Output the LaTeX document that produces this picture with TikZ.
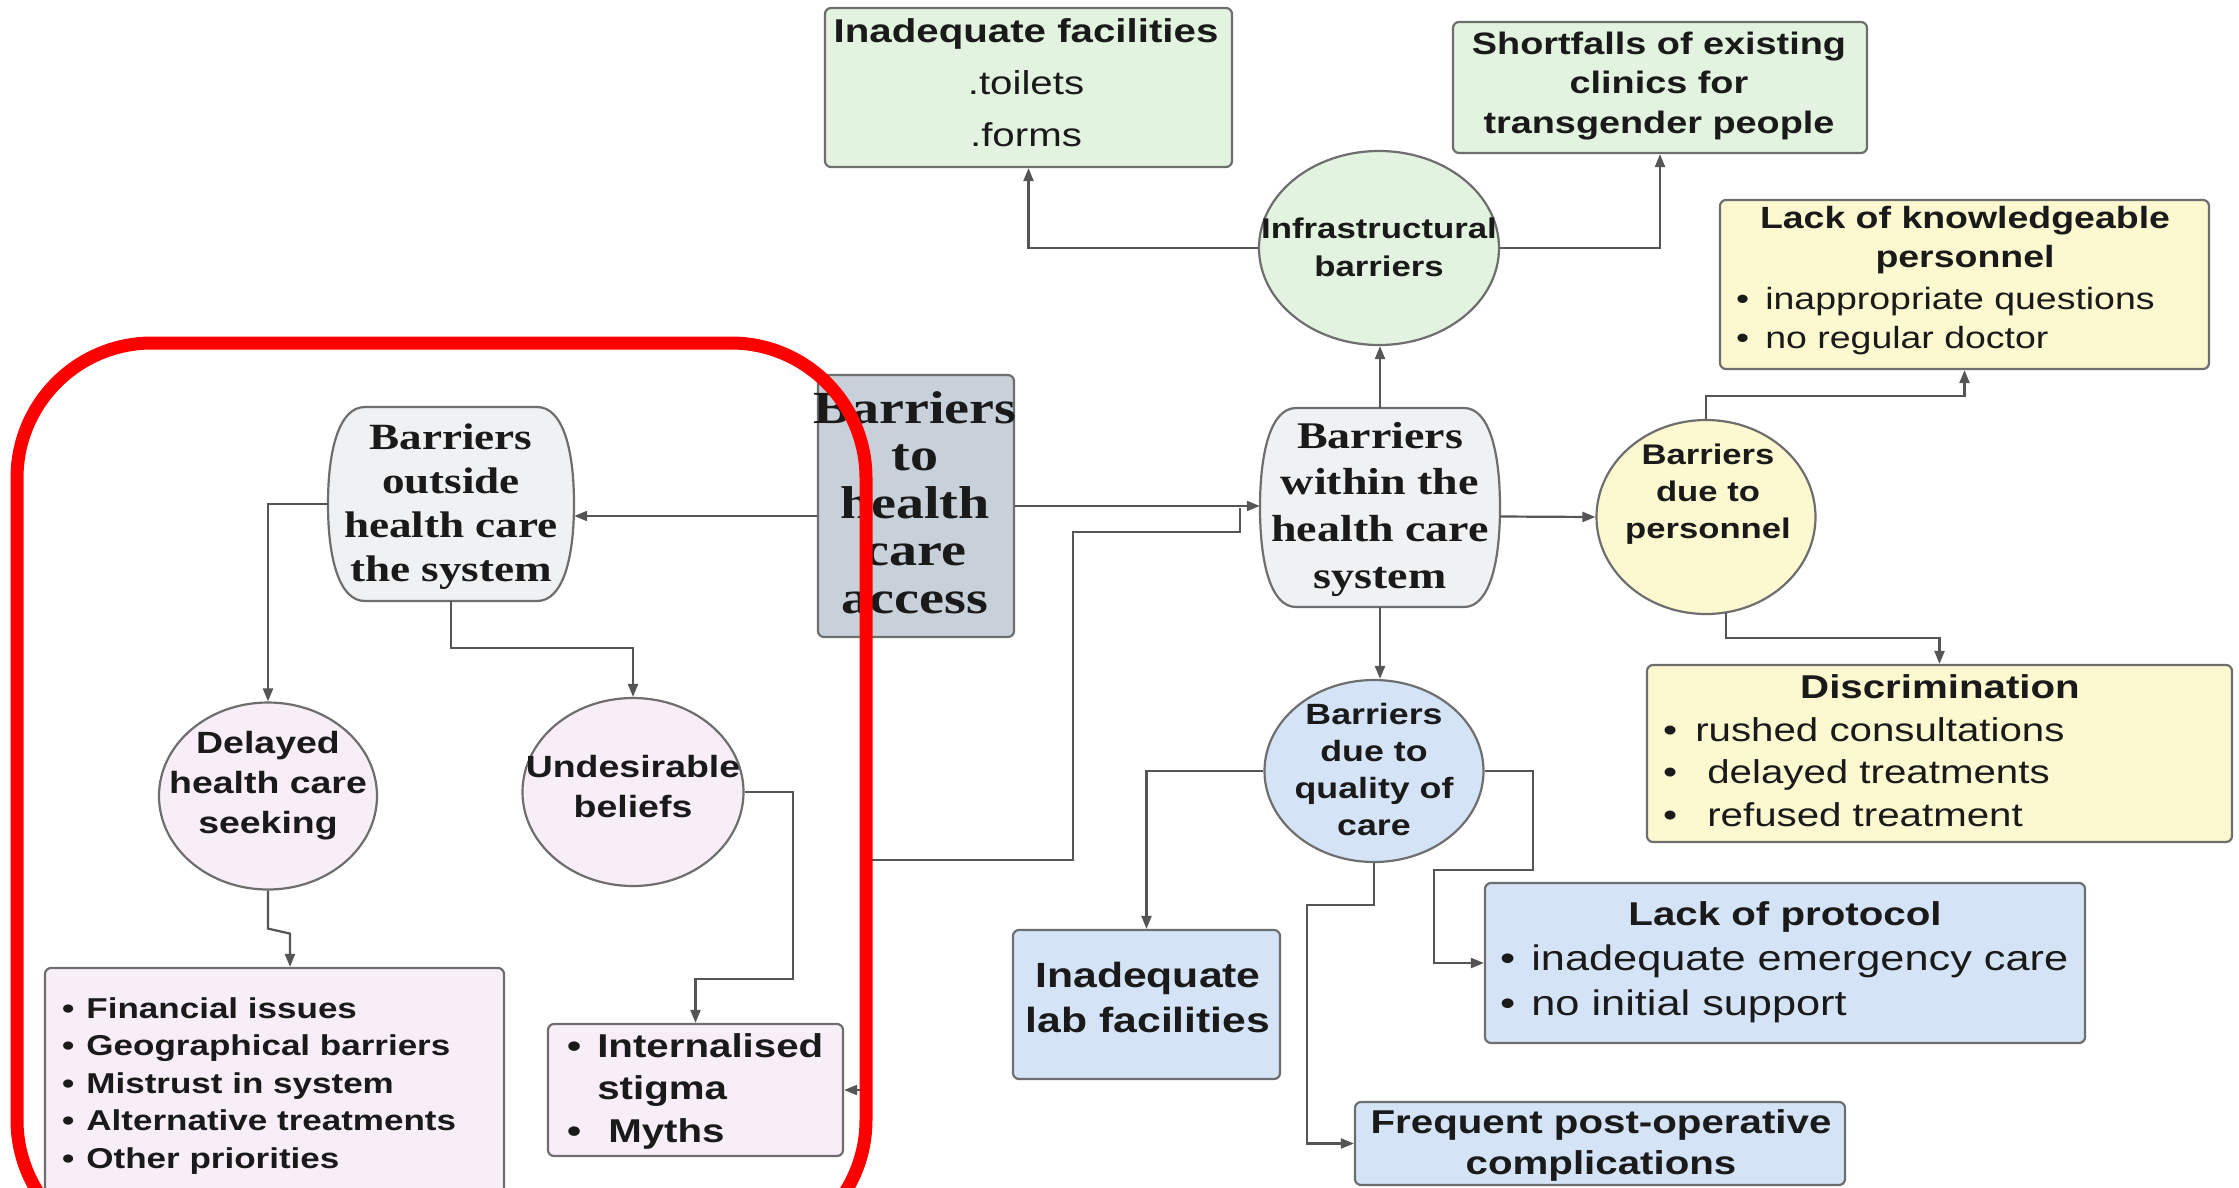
\documentclass[tikz,border=0pt]{standalone}
\usepackage{fontspec}
\setmainfont{Liberation Sans}[FakeStretch=1.22]
\newfontfamily\capfont{Liberation Serif}[FakeStretch=1.22]
\usetikzlibrary{shapes.geometric,arrows.meta,calc}

\definecolor{greenF}{HTML}{E2F4DF}
\definecolor{yellowF}{HTML}{FCF8D0}
\definecolor{blueF}{HTML}{D4E4F6}
\definecolor{pinkF}{HTML}{F8EEF7}
\definecolor{grayF}{HTML}{C8D0DA}
\definecolor{paleF}{HTML}{F0F1F3}
\definecolor{boxline}{HTML}{6E6E6E}
\definecolor{wire}{HTML}{555555}
\definecolor{ink}{HTML}{1A1A1A}

\newcommand\fsz[2]{\fontsize{#1}{#2}\selectfont}
% barrel outline: flat top and bottom, sides bowed outwards; #1 style, #2..#5 = left, top, right, bottom
\newcommand\barrel[5]{%
  \path[#1] ({#2+0.15*(#4-#2)},#3) -- ({#4-0.15*(#4-#2)},#3)
    .. controls ({#4-0.045*(#4-#2)},#3) and (#4,{#3+0.22*(#5-#3)}) .. (#4,{(#3+#5)/2})
    .. controls (#4,{#5-0.22*(#5-#3)}) and ({#4-0.045*(#4-#2)},#5) .. ({#4-0.15*(#4-#2)},#5)
    -- ({#2+0.15*(#4-#2)},#5)
    .. controls ({#2+0.045*(#4-#2)},#5) and (#2,{#5-0.22*(#5-#3)}) .. (#2,{(#3+#5)/2})
    .. controls (#2,{#3+0.22*(#5-#3)}) and ({#2+0.045*(#4-#2)},#3) .. ({#2+0.15*(#4-#2)},#3) -- cycle;}

\begin{document}
\begin{tikzpicture}[x=1pt, y=-1pt,
  box/.style={draw=boxline, line width=2.2pt, rounded corners=6pt, inner sep=0pt},
  oval/.style={ellipse, draw=boxline, line width=2.2pt, inner sep=0pt},
  anchorbox/.style={inner sep=0pt},
  barrelshape/.style={draw=boxline, line width=2.2pt, fill=paleF},
  txt/.style={inner sep=0pt, text=ink, anchor=base},
  ltxt/.style={inner sep=0pt, text=ink, anchor=base west},
  conn/.style={draw=wire, line width=2.2pt, -{Triangle[length=13pt,width=10pt]}},
  redframe/.style={draw=red, line width=13pt, rounded corners=135pt}]

\fill[white] (0,0) rectangle (2239,1187);
\clip (0,0) rectangle (2239,1187);

% ---------- shapes ----------
\node[box, fill=greenF, minimum width=407pt, minimum height=159pt] (fac) at (1028.5,87.5) {};
\node[box, fill=greenF, minimum width=414pt, minimum height=131pt] (short) at (1660,87.5) {};
\node[oval, fill=greenF, minimum width=240pt, minimum height=194pt] (infra) at (1379,248) {};
\node[box, fill=yellowF, minimum width=489pt, minimum height=169pt] (lack) at (1964.5,284.5) {};
\node[box, fill=grayF, minimum width=196pt, minimum height=262pt] (acc) at (916,506) {};

\barrel{barrelshape}{328}{407}{574}{601}
\node[anchorbox, minimum width=246pt, minimum height=194pt] (outside) at (451,504) {};
\barrel{barrelshape}{1260}{408}{1500}{607}
\node[anchorbox, minimum width=240pt, minimum height=199pt] (within) at (1380,507.5) {};

\node[oval, fill=yellowF, minimum width=219pt, minimum height=194pt] (person) at (1706,517) {};
\node[box, fill=yellowF, minimum width=585pt, minimum height=177pt] (discr) at (1939.5,753.5) {};
\node[oval, fill=pinkF, minimum width=218pt, minimum height=187pt] (delayed) at (268,796) {};
\node[oval, fill=pinkF, minimum width=221pt, minimum height=188pt] (undes) at (633,792) {};
\node[oval, fill=blueF, minimum width=219pt, minimum height=182pt] (quality) at (1374,771) {};
\node[box, fill=blueF, minimum width=600pt, minimum height=160pt] (protocol) at (1785,963) {};
\node[box, fill=blueF, minimum width=267pt, minimum height=149pt] (lab) at (1146.5,1004.5) {};
\node[box, fill=blueF, minimum width=490pt, minimum height=83pt] (freq) at (1600,1143.5) {};
\node[box, fill=pinkF, minimum width=459pt, minimum height=247pt] (fin) at (274.5,1091.5) {};
\node[box, fill=pinkF, minimum width=295pt, minimum height=132pt] (stigma) at (695.5,1090) {};

% ---------- texts ----------
\node[txt] (facT) at (1026,42) {\fsz{33}{52}\begin{tabular}[t]{@{}c@{}}\textbf{Inadequate facilities}\\ .toilets\\ .forms\end{tabular}};
\node[txt] (shortT) at (1659,54) {\fsz{31}{39.5}\bfseries\begin{tabular}[t]{@{}c@{}}Shortfalls of existing\\ clinics for\\ transgender people\end{tabular}};
\node[txt] (infraT) at (1379,238) {\fsz{28.5}{38.5}\bfseries\begin{tabular}[t]{@{}c@{}}Infrastructural\\ barriers\end{tabular}};
\node[txt] (lackT) at (1965,228) {\fsz{30.7}{39}\bfseries\begin{tabular}[t]{@{}c@{}}Lack of knowledgeable\\ personnel\end{tabular}};
\node[ltxt] (lackL) at (1736,309) {\fsz{30.7}{39.5}\begin{tabular}[t]{@{}l@{}}•\hspace{16pt}inappropriate questions\\ •\hspace{16pt}no regular doctor\end{tabular}};
\node[txt] (accT) at (915,423) {\capfont\bfseries\fsz{46}{47.5}\begin{tabular}[t]{@{}c@{}}Barriers\\ to\\ health\\ care\\ access\end{tabular}};
\node[txt] (outsideT) at (451,449) {\capfont\bfseries\fsz{37}{44}\begin{tabular}[t]{@{}c@{}}Barriers\\ outside\\ health care\\ the system\end{tabular}};
\node[txt] (withinT) at (1380,448) {\capfont\bfseries\fsz{37.7}{46.7}\begin{tabular}[t]{@{}c@{}}Barriers\\ within the\\ health care\\ system\end{tabular}};
\node[txt] (personT) at (1708,464) {\fsz{28.4}{37}\bfseries\begin{tabular}[t]{@{}c@{}}Barriers\\ due to\\ personnel\end{tabular}};
\node[txt] (discrT) at (1940,698) {\fsz{33}{38.5}\bfseries Discrimination};
\node[ltxt] (discrL) at (1663,741) {\fsz{33}{42.5}\begin{tabular}[t]{@{}l@{}}•\hspace{18pt}rushed consultations\\ •\hspace{30pt}delayed treatments\\ •\hspace{30pt}refused treatment\end{tabular}};
\node[txt] (delayedT) at (268,753) {\fsz{30.7}{40}\bfseries\begin{tabular}[t]{@{}c@{}}Delayed\\ health care\\ seeking\end{tabular}};
\node[txt] (undesT) at (633,777) {\fsz{30.7}{40}\bfseries\begin{tabular}[t]{@{}c@{}}Undesirable\\ beliefs\end{tabular}};
\node[txt] (qualityT) at (1374,724) {\fsz{29.3}{37.3}\bfseries\begin{tabular}[t]{@{}c@{}}Barriers\\ due to\\ quality of\\ care\end{tabular}};
\node[txt] (protT) at (1785,925) {\fsz{33}{45}\bfseries Lack of protocol};
\node[ltxt] (protL) at (1500,970) {\fsz{35.5}{45}\begin{tabular}[t]{@{}l@{}}•\hspace{16pt}inadequate emergency care\\ •\hspace{16pt}no initial support\end{tabular}};
\node[txt] (labT) at (1148,987) {\fsz{35}{45}\bfseries\begin{tabular}[t]{@{}c@{}}Inadequate\\ lab facilities\end{tabular}};
\node[txt] (freqT) at (1601,1133) {\fsz{33}{41}\bfseries\begin{tabular}[t]{@{}c@{}}Frequent post-operative\\ complications\end{tabular}};
\node[ltxt] (finL) at (62,1018) {\fsz{28.7}{37.5}\bfseries\begin{tabular}[t]{@{}l@{}}•\hspace{12pt}Financial issues\\ •\hspace{12pt}Geographical barriers\\ •\hspace{12pt}Mistrust in system\\ •\hspace{12pt}Alternative treatments\\ •\hspace{12pt}Other priorities\end{tabular}};
\node[ltxt] (stigmaL) at (567,1057) {\fsz{33}{42.5}\bfseries\begin{tabular}[t]{@{}l@{}}•\hspace{16pt}Internalised\\ \hphantom{•}\hspace{16pt}stigma\\ •\hspace{27pt}Myths\end{tabular}};

% ---------- connectors ----------
\draw[conn] ($(acc.west)+(0,10)$) -- ($(outside.east)+(0,12)$);
\draw[conn] (acc.east) -- (acc.east -| within.west);
\draw[conn] ($(within.west)+(-20,0)$) |- (1073,532) |- (866,860) |- (stigma.east);
\draw[conn] (outside.west) -| (delayed.north);
\draw[conn] (outside.south) -- ++(0,47) -| (undes.north);
\draw[conn] (delayed.south) -- ++(0,38) -- ++(22,5) -- ($(fin.north)+(15.5,0)$);
\draw[conn] (undes.east) -- ++(48,0) |- ($(stigma.north)+(0,-44)$) -- (stigma.north);
\draw[conn] (within.north) -- (within.north |- infra.south);
\draw[conn] (infra.west) -| (fac.south);
\draw[conn] (infra.east) -| (short.south);
\draw[conn] ($(within.east)+(0,9)$) -- (person.west);
\draw[conn] (person.north) |- ($(lack.south)+(0,26)$) -- (lack.south);
\draw[conn] ($(person.south)+(20,-2)$) |- ($(discr.north)+(0,-26)$) -- (discr.north);
\draw[conn] (within.south) -- (within.south |- quality.north);
\draw[conn] (quality.west) -| (lab.north);
\draw[conn] (quality.east) -| (1533,870) -| (1434,963) -- (protocol.west);
\draw[conn] (quality.south) |- (1307,905) |- (freq.west);

% ---------- highlight frame ----------
\draw[redframe] (17,343) rectangle (866,1255);
\end{tikzpicture}
\end{document}
